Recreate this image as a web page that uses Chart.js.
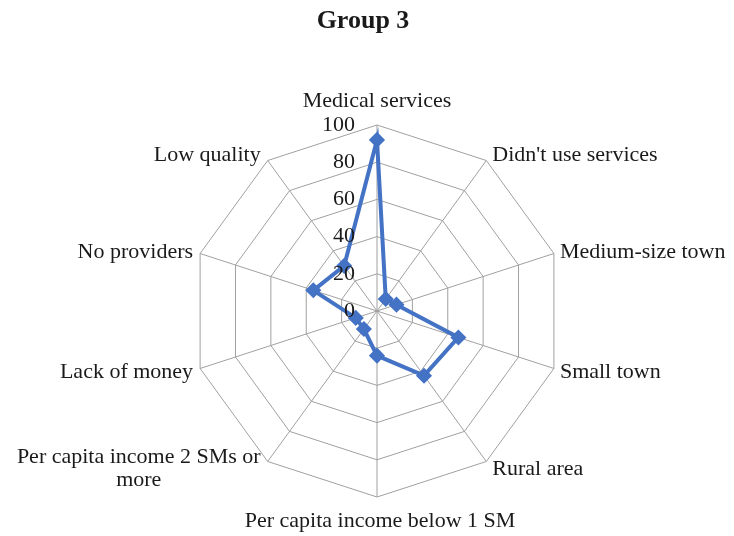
<!DOCTYPE html>
<html>
<head>
<meta charset="utf-8">
<script src="https://cdn.jsdelivr.net/npm/chart.js@4.4.1/dist/chart.umd.min.js"></script>
<style>
  html, body { margin: 0; padding: 0; background: #ffffff; }
  #wrap { width: 734px; height: 536px; }
</style>
</head>
<body>
<div id="wrap"><canvas id="c" width="734" height="536"></canvas></div>
<script>
const chartTitle = 'Group 3';
const categories = [
  'Medical services',
  "Didn't use services",
  'Medium-size town',
  'Small town',
  'Rural area',
  'Per capita income below 1 SM',
  ['Per capita income 2 SMs or', 'more'],
  'Lack of money',
  'No providers',
  'Low quality'
];
const group3Values = [92, 8, 11, 46, 43, 24, 12, 12, 36, 30];
const tickValues = [0, 20, 40, 60, 80, 100];

const FONT_FAMILY = '"Liberation Serif", "Times New Roman", serif';
const TEXT_COLOR = '#1a1a1a';
const BLUE = '#4472c4';
const GRID = '#a0a0a0';

const labelPlugin = {
  id: 'excelLabels',
  afterDraw(chart) {
    const ctx = chart.ctx;
    const scale = chart.scales.r;
    const n = categories.length;
    ctx.save();
    // title
    ctx.font = 'bold 26px ' + FONT_FAMILY;
    ctx.fillStyle = TEXT_COLOR;
    ctx.textAlign = 'center';
    ctx.textBaseline = 'middle';
    ctx.fillText(chartTitle, 363, 21);

    // tick labels
    ctx.font = '22px ' + FONT_FAMILY;
    ctx.textAlign = 'right';
    ctx.textBaseline = 'middle';
    scale.ticks.forEach(t => {
      const d = scale.getDistanceFromCenterForValue(t.value);
      ctx.fillText(String(t.value), scale.xCenter - 22, scale.yCenter - d);
    });

    // point labels
    const lh = 23;
    for (let i = 0; i < n; i++) {
      const deg = i * 360 / n;
      const rad = deg * Math.PI / 180;
      const v = scale.getPointPosition(i, scale.drawingArea);
      const lines = Array.isArray(categories[i]) ? categories[i] : [categories[i]];
      let x, yc, align;
      if (deg === 0) { align = 'center'; x = v.x; yc = v.y - 24; }
      else if (deg === 180) { align = 'center'; x = v.x + 3; yc = v.y + 24; }
      else {
        yc = v.y - Math.cos(rad) * 8 + 1;
        if (deg < 180) { align = 'left'; x = v.x + 6; }
        else { align = 'right'; x = v.x - 7; }
      }
      if (lines.length > 1) {
        const w = Math.max(...lines.map(l => ctx.measureText(l).width));
        if (align === 'right') x = x - w / 2;
        else if (align === 'left') x = x + w / 2;
        align = 'center';
      }
      ctx.textAlign = align;
      lines.forEach((l, k) => {
        ctx.fillText(l, x, yc + (k - (lines.length - 1) / 2) * lh);
      });
    }
    ctx.restore();
  }
};

new Chart(document.getElementById('c'), {
  type: 'radar',
  data: {
    labels: categories,
    datasets: [{
      label: chartTitle,
      data: group3Values,
      borderColor: BLUE,
      backgroundColor: 'rgba(0,0,0,0)',
      borderWidth: 4,
      fill: false,
      tension: 0,
      pointStyle: 'rectRot',
      pointRadius: 7,
      pointBorderWidth: 1.5,
      pointBackgroundColor: BLUE,
      pointBorderColor: BLUE
    }]
  },
  options: {
    responsive: false,
    animation: false,
    layout: { padding: { left: 191, right: 171, top: 124, bottom: 38 } },
    plugins: {
      legend: { display: false },
      title: { display: false },
      tooltip: { enabled: false }
    },
    scales: {
      r: {
        min: 0,
        max: 100,
        beginAtZero: true,
        ticks: { display: false, stepSize: 20 },
        afterBuildTicks(scale) {
          scale.ticks = tickValues.map(v => ({ value: v }));
        },
        pointLabels: { display: false },
        grid: { color: GRID, lineWidth: 1 },
        angleLines: { color: GRID, lineWidth: 1 }
      }
    }
  },
  plugins: [labelPlugin]
});
</script>
</body>
</html>
